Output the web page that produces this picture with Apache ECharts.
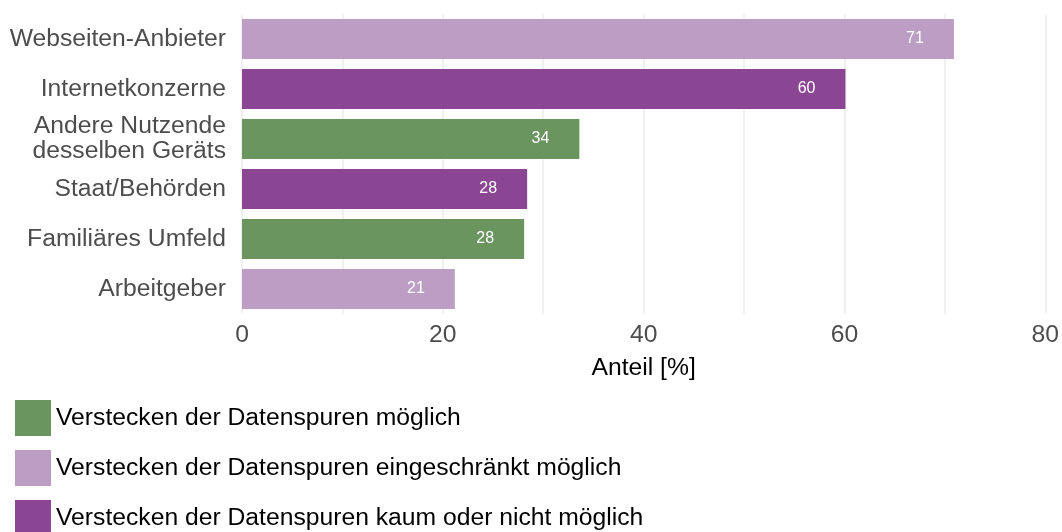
<!DOCTYPE html>
<html>
<head>
<meta charset="utf-8">
<script src="https://cdn.jsdelivr.net/npm/echarts@6/dist/echarts.min.js"></script>
<style>
  html, body { margin: 0; padding: 0; background: #fff; }
  #chart { width: 1062px; height: 532px; }
</style>
</head>
<body>
<div id="chart"></div>
<script>
// Kategorien (von oben nach unten)
var categories = [
  "Webseiten-Anbieter",
  "Internetkonzerne",
  "Andere Nutzende\ndesselben Geräts",
  "Staat/Behörden",
  "Familiäres Umfeld",
  "Arbeitgeber"
];
// Anteil [%] je Kategorie
var values = [70.9, 60.1, 33.6, 28.4, 28.1, 21.2];
// Gruppe je Kategorie: 0 = möglich, 1 = eingeschränkt, 2 = kaum/nicht
var groupOf = [1, 2, 0, 2, 0, 1];
var groupNames = [
  "Verstecken der Datenspuren möglich",
  "Verstecken der Datenspuren eingeschränkt möglich",
  "Verstecken der Datenspuren kaum oder nicht möglich"
];
var groupColors = ["#6a955f", "#bc9ec4", "#8a4593"];
var xTicks = [0, 20, 40, 60, 80];

var font = "'Liberation Sans', Arial, sans-serif";
var fs = 24.7;

var series = groupNames.map(function (name, g) {
  return {
    name: name,
    type: "bar",
    stack: "all",
    barWidth: 40,
    itemStyle: { color: groupColors[g] },
    label: {
      show: true,
      position: "insideRight",
      distance: 30,
      color: "#fff",
      fontFamily: font,
      fontSize: 16,
      formatter: function (p) { return Math.round(p.value); }
    },
    data: values.map(function (v, i) { return groupOf[i] === g ? v : null; })
  };
});

// eine Legende je Gruppe, untereinander
var legends = groupNames.map(function (name, g) {
  return {
    orient: "vertical",
    left: 15,
    top: 400 + g * 50,
    padding: 0,
    itemWidth: 36,
    itemHeight: 36,
    itemGap: 0,
    itemTextGap: 13,
    icon: "rect",
    selectedMode: false,
    textStyle: { fontSize: fs, color: "#000", fontFamily: font },
    data: [name]
  };
});

var chart = echarts.init(document.getElementById("chart"));
chart.setOption({
  animation: false,
  textStyle: { fontFamily: font },
  grid: { left: 242, right: 9, top: 14, bottom: 218, containLabel: false },
  legend: legends,
  xAxis: {
    type: "value",
    min: xTicks[0],
    max: xTicks[xTicks.length - 1],
    interval: 20,
    name: "Anteil [%]",
    nameLocation: "middle",
    nameGap: 42,
    nameTextStyle: { fontSize: fs, color: "#000", fontFamily: font },
    axisLine: { show: false },
    axisTick: { show: false },
    axisLabel: { fontSize: fs, color: "#4d4d4d", margin: 9, fontFamily: font },
    splitLine: { show: true, lineStyle: { color: "#ebebeb", width: 1.5 } },
    minorTick: { show: false, splitNumber: 2 },
    minorSplitLine: { show: true, lineStyle: { color: "#ebebeb", width: 1.5 } }
  },
  yAxis: {
    type: "category",
    inverse: true,
    data: categories,
    axisLine: { show: false },
    axisTick: { show: false },
    splitLine: { show: false },
    axisLabel: {
      fontSize: fs,
      color: "#4d4d4d",
      margin: 16,
      lineHeight: 25,
      fontFamily: font
    }
  },
  series: series
});
</script>
</body>
</html>
